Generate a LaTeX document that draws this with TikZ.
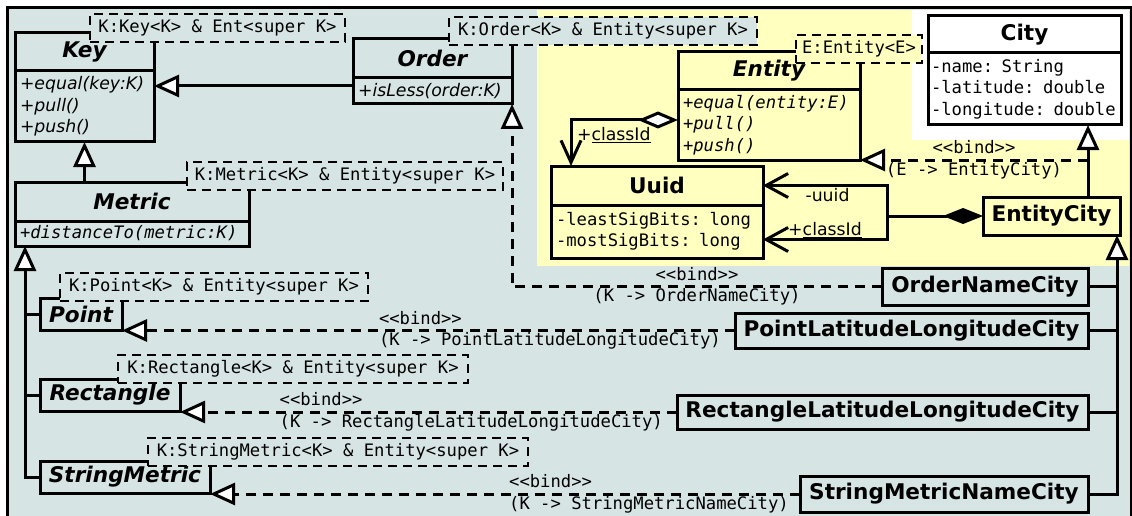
\documentclass[tikz,border=0pt]{standalone}
\usepackage{fontspec}
\setmainfont{DejaVu Sans}
\setmonofont{DejaVu Sans Mono}
\usetikzlibrary{arrows.meta}
\definecolor{pane-grey}{HTML}{D6E4E4}
\definecolor{pane-yellow}{HTML}{FFFFC0}

\begin{document}
\begin{tikzpicture}[x=1pt, y=-1pt, line width=3pt,
    every node/.style={outer sep=0pt},
    head/.style={draw, fill=pane-grey, anchor=north west, inner xsep=3pt,
                 minimum height=38pt, font=\fontsize{21.6}{26}\selectfont\bfseries},
    abstract/.style={head, font=\fontsize{21.6}{26}\selectfont\bfseries\itshape},
    members/.style={draw, fill=pane-grey, anchor=north, align=left, inner xsep=5pt,
                    font=\fontsize{17.3}{21.5}\selectfont},
    ops/.style={members, font=\fontsize{17.3}{21.5}\selectfont\itshape},
    monoops/.style={members, font=\fontsize{17.2}{21.5}\selectfont\ttfamily\itshape},
    attrs/.style={members, font=\fontsize{17.2}{21.5}\selectfont\ttfamily},
    tparam/.style={draw, line width=2.6pt, dash pattern=on 9pt off 6pt, fill=pane-grey,
                   anchor=north west, inner sep=0pt, minimum height=28pt,
                   font=\fontsize{17.2}{21}\selectfont\ttfamily},
    bindlbl/.style={align=left, inner sep=0pt, font=\fontsize{17.2}{21.5}\selectfont\ttfamily},
    lbl/.style={inner sep=2pt, font=\fontsize{17.3}{21}\selectfont},
    gen/.style={-{Triangle[length=25pt, width=22pt, fill=white]}},
    bind/.style={gen, dash pattern=on 10pt off 7pt},
    nav/.style={-{Straight Barb[length=22pt, width=24pt]}},
    agg/.style={{Diamond[length=40pt, width=17pt, fill=white]}-{Straight Barb[length=22pt, width=20pt]}},
    comp/.style={{Diamond[length=40pt, width=16pt]}-}]
    % Diagram: generic keys on the left, the entity package (yellow) on the right,
    % concrete city classes bound to the templates along the bottom.
    % Coordinates: (x, y) in pt, y grows downward, page 1132 x 516
    %   frame from (7,8), yellow pane x >= 537 down to y=266, white pane for City
    %   abstract classes at x=15 (Key, Metric) and x=40 (Point, Rectangle, StringMetric)
    %   concrete classes end at x=1088, their common generalization line at x=1117
    \clip (0,0) rectangle (1132,516);
    \fill[white] (0,0) rectangle (1132,516);
    \filldraw[fill=pane-grey] (7,8) rectangle (1131,540);
    \fill[pane-yellow] (537,10) rectangle (1129,266);
    \fill[white] (912,10) rectangle (1129,140);

    % generic side
    \node[abstract, minimum width=139pt] (key) at (15,33) {Key};
    \node[ops, text width=129pt, minimum height=71pt] (keyops) at (key.south)
          {+equal(key:K)\\+pull()\\+push()};
    \node[tparam, minimum width=255pt] (keytpl) at (90,14) {K:Key<K> \& Ent<super K>};

    \node[abstract, minimum width=159pt, minimum height=39pt] (order) at (353,39) {Order};
    \node[ops, text width=149pt, minimum height=26pt] (orderops) at (order.south)
          {+isLess(order:K)};
    \node[tparam, minimum width=308pt] (ordertpl) at (449,17) {K:Order<K> \& Entity<super K>};

    \node[abstract, minimum width=234pt, minimum height=39pt] (metric) at (15,182) {Metric};
    \node[monoops, text width=224pt, minimum height=25pt] (metricops) at (metric.south)
          {+distanceTo(metric:K)};
    \node[tparam, minimum width=316pt] (metrictpl) at (187,162) {K:Metric<K> \& Entity<super K>};

    \node[abstract, minimum width=82pt, minimum height=32pt] (point) at (40,298) {Point};
    \node[tparam, minimum width=308pt] (pointtpl) at (60,273) {K:Point<K> \& Entity<super K>};
    \node[abstract, minimum width=140pt, minimum height=32pt] (rect) at (40,379) {Rectangle};
    \node[tparam, minimum width=350pt] (recttpl) at (118,355) {K:Rectangle<K> \& Entity<super K>};
    \node[abstract, minimum width=170pt, minimum height=32pt] (smetric) at (40,461) {StringMetric};
    \node[tparam, minimum width=380pt] (smetrictpl) at (148,438) {K:StringMetric<K> \& Entity<super K>};

    % entity package
    \node[abstract, fill=pane-yellow, minimum width=182pt] (entity) at (678,52) {Entity};
    \node[monoops, fill=pane-yellow, text width=172pt, minimum height=70pt] (entops) at (entity.south)
          {+equal(entity:E)\\+pull()\\+push()};
    \node[tparam, fill=pane-yellow, minimum width=126pt] (entitytpl) at (796,35) {E:Entity<E>};

    \node[head, fill=pane-yellow, minimum width=212pt, minimum height=39pt] (uuid) at (551,166) {Uuid};
    \node[attrs, fill=pane-yellow, text width=202pt, minimum height=53pt] (uuidattrs) at (uuid.south)
          {-leastSigBits: long\\-mostSigBits: long};

    \node[head, fill=white, minimum width=193pt, minimum height=37pt] (city) at (928,16) {City};
    \node[attrs, fill=white, text width=187pt, inner xsep=3pt, minimum height=72pt] (cityattrs) at (city.south)
          {-name: String\\-latitude: double\\-longitude: double};

    \node[head, fill=pane-yellow, minimum width=137pt] (ecity) at (983,197) {EntityCity};

    % concrete cities
    \node[head, minimum width=206pt, minimum height=37pt] (onc) at (882,268) {OrderNameCity};
    \node[head, minimum width=353pt, minimum height=35pt] (pllc) at (735,313) {PointLatitudeLongitudeCity};
    \node[head, minimum width=411pt, minimum height=34pt] (rllc) at (677,395) {RectangleLatitudeLongitudeCity};
    \node[head, minimum width=288pt, minimum height=36pt] (smnc) at (800,476) {StringMetricNameCity};

    % generalizations
    \draw[gen] ([yshift=5pt]orderops.west) -- ([yshift=5pt]orderops.west -| keyops.east);
    \draw[gen] (keyops.south |- metric.north) -- (keyops.south);
    \coordinate (metricfoot) at ([xshift=10pt]metricops.south west);
    \draw[gen] (smetric.west) -| (metricfoot);
    \draw (point.west) -- (point.west -| metricfoot);
    \draw (rect.west) -- (rect.west -| metricfoot);

    \coordinate (ecitytop) at ([xshift=36.5pt]ecity.north);
    \draw[gen] (ecitytop) -- (ecitytop |- cityattrs.south);
    \coordinate (ecityfoot) at ([xshift=65.5pt]ecity.south);
    \draw[gen] (smnc.east) -| (ecityfoot);
    \draw (onc.east) -- (onc.east -| ecityfoot);
    \draw (pllc.east) -- (pllc.east -| ecityfoot);
    \draw (rllc.east) -- (rllc.east -| ecityfoot);

    % template bindings
    \draw[bind] (ecitytop |- entops.south) -- node[bindlbl, align=center] (entbind)
          {<<bind>>\\(E -> EntityCity)} (entops.south east);
    \draw[bind] (onc.west) -- node[bindlbl, align=center] (orderbind)
          {<<bind>>\\(K -> OrderNameCity)} (onc.west -| orderops.south east) -- (orderops.south east);
    \draw[bind] (pllc.west) -- node[bindlbl, pos=0.302] (pointbind)
          {<<bind>>\\(K -> PointLatitudeLongitudeCity)} (pllc.west -| point.east);
    \draw[bind] (rllc.west) -- node[bindlbl, pos=0.414] (rectbind)
          {<<bind>>\\(K -> RectangleLatitudeLongitudeCity)} (rllc.west -| rect.east);
    \draw[bind] (smnc.west) -- node[bindlbl, pos=0.256] (smetricbind)
          {<<bind>>\\(K -> StringMetricNameCity)} (smnc.west -| smetric.east);

    % associations to Uuid
    \draw[agg] ([yshift=5pt]entops.west) -| node[lbl, pos=0.3, anchor=north, yshift=-5pt] (classrole)
          {+\underline{classId}} ([xshift=20pt]uuid.north west);
    \coordinate (fork) at ([xshift=-96pt]ecity.west);
    \draw[comp] (ecity.west) -- (fork);
    \draw[nav] (fork) |- node[lbl, pos=0.74, below, yshift=-1pt] (uuidrole) {-uuid} (uuid.east);
    \draw[nav] (fork) |- node[lbl, pos=0.75, above] (ecityrole)
          {+\underline{classId}} ([yshift=-8pt]uuidattrs.east);
  \end{tikzpicture}
\end{document}
